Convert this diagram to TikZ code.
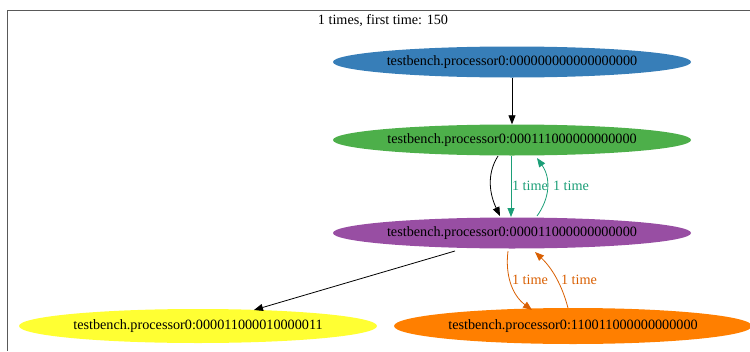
\documentclass[tikz,border=0pt]{standalone}
\usepackage{fontspec}
\setmainfont{Liberation Serif}
\usetikzlibrary{shapes.geometric,arrows.meta}
\definecolor{cblue}{HTML}{377EB8}
\definecolor{cgreen}{HTML}{4DAF4A}
\definecolor{cpurple}{HTML}{984EA3}
\definecolor{cyellow}{HTML}{FFFF33}
\definecolor{corange}{HTML}{FF7F00}
\definecolor{eteal}{HTML}{1B9E77}
\definecolor{eorange}{HTML}{D95F02}
\begin{document}
\begin{tikzpicture}[x=1pt,y=-1pt,
  st/.style={ellipse,draw=none,minimum width=358pt,minimum height=31pt,inner sep=0pt,font=\fontsize{14.2}{16}\selectfont},
  ed/.style={-{Triangle[length=9pt,width=7pt]},line width=0.8pt},
  lb/.style={font=\fontsize{14.2}{16}\selectfont,inner sep=1pt}]
\useasboundingbox (0,0) rectangle (750,351);
\draw[gray!70!black,line width=0.8pt] (750,10) -- (7,10) -- (7,351);
\node[font=\fontsize{14.2}{16}\selectfont] (title) at (383,21) {1 times, first time: 150};
\node[st,fill=cblue] (a) at (512,62) {testbench.processor0:000000000000000000};
\node[st,fill=cgreen] (b) at (512,140) {testbench.processor0:000111000000000000};
\node[st,fill=cpurple] (c) at (512,233) {testbench.processor0:000011000000000000};
\node[st,fill=cyellow,minimum height=34pt] (d) at (198,326) {testbench.processor0:000011000010000011};
\node[st,fill=corange,minimum height=36pt] (e) at (573,326) {testbench.processor0:110011000000000000};
\draw[ed] (a) -- (b);
\draw[ed] (498,156) .. controls (486,175) and (490,195) .. (500,216);
\draw[ed,eteal] (511,156) -- (511,217);
\node[lb,text=eteal] (l1) at (530,186) {1 time};
\draw[ed,eteal] (537,216) .. controls (550,198) and (551,178) .. (537,158);
\node[lb,text=eteal] (l2) at (571,186) {1 time};
\draw[ed] (455,251) -- (254,310);
\draw[ed,eorange] (508,251) .. controls (505,275) and (512,295) .. (532,310);
\node[lb,text=eorange] (l3) at (530,280) {1 time};
\draw[ed,eorange] (568,308) .. controls (562,285) and (552,268) .. (535,252);
\node[lb,text=eorange] (l4) at (579,280) {1 time};
\end{tikzpicture}
\end{document}
